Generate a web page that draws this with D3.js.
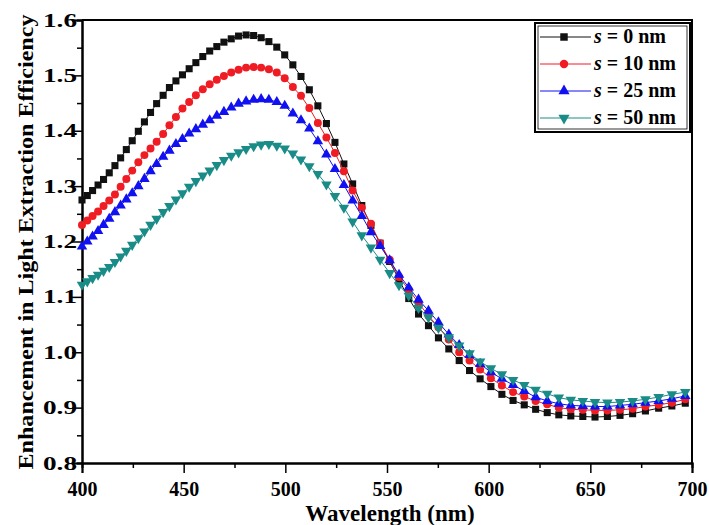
<!DOCTYPE html>
<html>
<head>
<meta charset="utf-8">
<script src="https://cdn.jsdelivr.net/npm/d3@7"></script>
<style>
  html, body { margin: 0; padding: 0; background: #fff; }
  svg { display: block; font-family: "Liberation Serif", "Times New Roman", serif; font-weight: bold; }
</style>
</head>
<body>
<div id="chart"></div>
<script>
// wavelength samples (nm)
var wavelength = [400, 402.6, 405.2, 407.9, 410.6, 413.4, 416.2, 419.0, 421.8, 424.7,
  427.7, 430.7, 433.7, 436.7, 439.9, 443.0, 446.2, 449.4, 452.7, 456.0,
  459.4, 462.8, 466.3, 469.8, 473.4, 477.0, 480.7, 484.4, 488.1, 491.9,
  495.8, 499.7, 503.7, 507.7, 511.8, 516.0, 520.2, 524.4, 528.8, 533.1,
  537.6, 542.1, 546.6, 551.3, 555.9, 560.7, 565.5, 570.4, 575.3, 580.4,
  585.5, 590.6, 595.8, 601.1, 606.5, 612.0, 617.5, 623.1, 628.8, 634.5,
  640.4, 646.3, 652.3, 658.4, 664.6, 670.8, 677.1, 683.6, 690.1, 696.7];

var s0 = [1.275, 1.283, 1.292, 1.302, 1.312, 1.324, 1.337, 1.351, 1.366, 1.382,
  1.399, 1.416, 1.433, 1.449, 1.464, 1.478, 1.490, 1.501, 1.512, 1.523,
  1.534, 1.544, 1.552, 1.560, 1.566, 1.571, 1.573, 1.572, 1.568, 1.561,
  1.551, 1.537, 1.519, 1.498, 1.474, 1.445, 1.413, 1.379, 1.340, 1.304,
  1.265, 1.229, 1.197, 1.164, 1.131, 1.097, 1.069, 1.048, 1.026, 1.006,
  0.985, 0.967, 0.952, 0.938, 0.924, 0.913, 0.905, 0.897, 0.891, 0.887,
  0.885, 0.884, 0.883, 0.884, 0.886, 0.889, 0.894, 0.899, 0.903, 0.908];

var s10 = [1.230, 1.238, 1.246, 1.254, 1.264, 1.274, 1.285, 1.299, 1.313, 1.328,
  1.343, 1.356, 1.368, 1.380, 1.394, 1.410, 1.425, 1.440, 1.452, 1.464,
  1.475, 1.484, 1.492, 1.499, 1.505, 1.510, 1.514, 1.515, 1.514, 1.511,
  1.505, 1.495, 1.479, 1.463, 1.441, 1.414, 1.388, 1.360, 1.327, 1.292,
  1.261, 1.232, 1.197, 1.167, 1.136, 1.113, 1.089, 1.066, 1.045, 1.023,
  1.000, 0.985, 0.969, 0.953, 0.940, 0.928, 0.920, 0.912, 0.906, 0.900,
  0.897, 0.896, 0.895, 0.895, 0.896, 0.898, 0.902, 0.905, 0.909, 0.915];

var s25 = [1.191, 1.200, 1.209, 1.219, 1.230, 1.241, 1.253, 1.265, 1.276, 1.287,
  1.300, 1.313, 1.327, 1.340, 1.353, 1.364, 1.376, 1.385, 1.395, 1.403,
  1.411, 1.419, 1.427, 1.434, 1.442, 1.449, 1.453, 1.456, 1.457, 1.456,
  1.452, 1.445, 1.431, 1.419, 1.404, 1.381, 1.357, 1.331, 1.302, 1.274,
  1.246, 1.217, 1.192, 1.166, 1.140, 1.117, 1.095, 1.075, 1.054, 1.032,
  1.013, 0.995, 0.979, 0.964, 0.952, 0.941, 0.930, 0.919, 0.912, 0.907,
  0.904, 0.903, 0.902, 0.902, 0.904, 0.906, 0.909, 0.912, 0.916, 0.921];

var s50 = [1.122, 1.128, 1.134, 1.140, 1.147, 1.154, 1.163, 1.173, 1.183, 1.194,
  1.206, 1.218, 1.230, 1.241, 1.253, 1.264, 1.276, 1.287, 1.299, 1.309,
  1.319, 1.328, 1.338, 1.347, 1.355, 1.361, 1.367, 1.372, 1.375, 1.376,
  1.373, 1.368, 1.359, 1.348, 1.336, 1.322, 1.303, 1.282, 1.261, 1.236,
  1.211, 1.189, 1.167, 1.143, 1.121, 1.102, 1.080, 1.063, 1.044, 1.027,
  1.012, 0.998, 0.983, 0.971, 0.960, 0.950, 0.941, 0.932, 0.925, 0.918,
  0.914, 0.912, 0.910, 0.909, 0.910, 0.912, 0.915, 0.919, 0.924, 0.928];

var seriesNames = ["0", "10", "25", "50"];
var xTicks = [400, 450, 500, 550, 600, 650, 700];
var xMinor = [425, 475, 525, 575, 625, 675];
var yTicks = [0.8, 0.9, 1.0, 1.1, 1.2, 1.3, 1.4, 1.5, 1.6];
var yMinor = [0.85, 0.95, 1.05, 1.15, 1.25, 1.35, 1.45, 1.55];

drawChart("#chart");

function drawChart(sel) {
  var width = 709, height = 525;
  var plot = { left: 82, right: 692, top: 20, bottom: 463 };

  var svg = d3.select(sel).append("svg")
    .attr("width", width)
    .attr("height", height);

  var x = d3.scaleLinear().domain([400, 700]).range([plot.left, plot.right]);
  var y = d3.scaleLinear().domain([0.8, 1.6]).range([plot.bottom, plot.top]);

  // series styles
  var series = [
    { name: seriesNames[0], values: s0,  color: "#111111", symbol: d3.symbolSquare,   size: 50, rot: 0 },
    { name: seriesNames[1], values: s10, color: "#f01c24", symbol: d3.symbolCircle,   size: 50, rot: 0 },
    { name: seriesNames[2], values: s25, color: "#1010f0", symbol: d3.symbolTriangle, size: 48, rot: 0 },
    { name: seriesNames[3], values: s50, color: "#1a8c88", symbol: d3.symbolTriangle, size: 48, rot: 180 }
  ];

  // plot frame (top and right)
  svg.append("path")
    .attr("d", "M" + plot.left + "," + plot.top + "H" + plot.right + "V" + plot.bottom)
    .attr("fill", "none")
    .attr("stroke", "#000")
    .attr("stroke-width", 2);

  // x axis
  var xAxis = d3.axisBottom(x).tickValues(xTicks).tickSize(10).tickPadding(9).tickFormat(d3.format("d"));
  var gx = svg.append("g")
    .attr("transform", "translate(0," + plot.bottom + ")")
    .call(xAxis);
  svg.append("g")
    .attr("transform", "translate(0," + plot.bottom + ")")
    .call(d3.axisBottom(x).tickValues(xMinor).tickSize(5).tickFormat(""));

  // y axis
  var yAxis = d3.axisLeft(y).tickValues(yTicks).tickSize(10).tickFormat(d3.format(".1f"));
  var gy = svg.append("g")
    .attr("transform", "translate(" + plot.left + ",0)")
    .call(yAxis);
  svg.append("g")
    .attr("transform", "translate(" + plot.left + ",0)")
    .call(d3.axisLeft(y).tickValues(yMinor).tickSize(5).tickFormat(""));

  svg.selectAll(".domain").attr("stroke-width", 2);
  svg.selectAll(".tick line").attr("stroke-width", 1.5);

  gx.selectAll("text")
    .attr("font-family", "Liberation Serif")
    .attr("font-weight", "bold")
    .attr("font-size", 20)
    .attr("fill", "#000");

  gy.selectAll("text")
    .attr("font-family", "Liberation Serif")
    .attr("font-weight", "bold")
    .attr("font-size", 19)
    .attr("fill", "#000")
    .attr("x", -5)
    .attr("textLength", 34)
    .attr("lengthAdjust", "spacingAndGlyphs");

  // axis titles
  svg.append("text")
    .attr("x", 390)
    .attr("y", 521)
    .attr("text-anchor", "middle")
    .attr("font-size", 23)
    .text("Wavelength (nm)");

  svg.append("text")
    .attr("transform", "translate(33,242) rotate(-90)")
    .attr("text-anchor", "middle")
    .attr("font-size", 21)
    .attr("textLength", 455)
    .attr("lengthAdjust", "spacingAndGlyphs")
    .text("Enhancement in Light Extraction Efficiency");

  // lines and markers
  var line = d3.line()
    .x(function(d, i) { return x(wavelength[i]); })
    .y(function(d) { return y(d); });

  series.forEach(function(s) {
    var g = svg.append("g");
    g.append("path")
      .datum(s.values)
      .attr("d", line)
      .attr("fill", "none")
      .attr("stroke", s.color)
      .attr("stroke-width", 1);
    g.selectAll("path.mk")
      .data(s.values)
      .enter()
      .append("path")
      .attr("class", "mk")
      .attr("d", d3.symbol().type(s.symbol).size(s.size))
      .attr("transform", function(d, i) {
        return "translate(" + x(wavelength[i]) + "," + y(d) + ") rotate(" + s.rot + ")";
      })
      .attr("fill", s.color);
  });

  // legend
  var lg = svg.append("g").attr("transform", "translate(535,23)");
  lg.append("rect")
    .attr("width", 155).attr("height", 109)
    .attr("fill", "#fff")
    .attr("stroke", "#000")
    .attr("stroke-width", 2);
  lg.append("rect")
    .attr("x", 3).attr("y", 3)
    .attr("width", 149).attr("height", 103)
    .attr("fill", "none")
    .attr("stroke", "#000")
    .attr("stroke-width", 0.8);

  series.forEach(function(s, i) {
    var ry = 14 + i * 27;
    lg.append("line")
      .attr("x1", 5).attr("x2", 56)
      .attr("y1", ry).attr("y2", ry)
      .attr("stroke", s.color)
      .attr("stroke-width", 1);
    lg.append("path")
      .attr("d", d3.symbol().type(s.symbol).size(s.size + 6))
      .attr("transform", "translate(29," + ry + ") rotate(" + s.rot + ")")
      .attr("fill", s.color);
    var t = lg.append("text")
      .attr("x", 59)
      .attr("y", ry + 6)
      .attr("font-size", 20);
    t.append("tspan").attr("font-style", "italic").text("s");
    t.append("tspan").text(" = " + s.name + " nm");
  });
}
</script>
</body>
</html>
